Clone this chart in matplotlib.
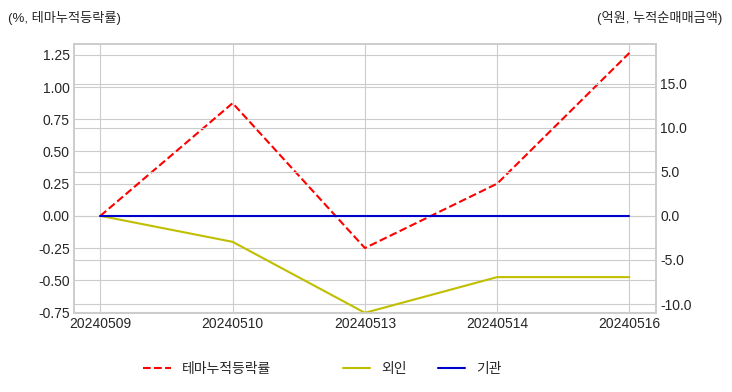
import matplotlib
matplotlib.use("Agg")
import matplotlib.pyplot as plt
import seaborn as sns
from matplotlib.ticker import FormatStrFormatter

dates = ["20240509", "20240510", "20240513", "20240514", "20240516"]
theme_return = [0.0, 0.875, -0.25, 0.25, 1.265]  # %
foreign = [0.0, -2.95, -11.0, -6.95, -6.95]  # 억원
institution = [0.0, 0.0, 0.0, 0.0, 0.0]  # 억원

sns.set_style("whitegrid")
plt.rcParams["font.family"] = ["Liberation Sans", "Noto Sans CJK KR", "DejaVu Sans"]
plt.rcParams["axes.unicode_minus"] = False

fig = plt.figure(figsize=(7.32, 3.92), dpi=100)
ax = fig.add_axes([0.101, 0.202, 0.795, 0.686])
ax2 = ax.twinx()

l1, = ax.plot(dates, theme_return, color="red", linestyle="--", linewidth=1.5, label="테마누적등락률")
l2, = ax2.plot(dates, foreign, color="#bfbf00", linewidth=1.5, label="외인")
l3, = ax2.plot(dates, institution, color="#0000cc", linewidth=1.5, label="기관")

# align zero on both axes
left_top = max(theme_return) + 0.07
right_bottom = min(foreign)
zero_frac = 0.3606
left_bottom = -left_top * zero_frac / (1 - zero_frac)
right_top = -right_bottom * (1 - zero_frac) / zero_frac
ax.set_ylim(left_bottom, left_top)
ax2.set_ylim(right_bottom, right_top)

ax.set_yticks([-0.75, -0.5, -0.25, 0, 0.25, 0.5, 0.75, 1.0, 1.25])
ax.yaxis.set_major_formatter(FormatStrFormatter("%.2f"))
ax2.set_yticks([-10, -5, 0, 5, 10, 15])
ax2.yaxis.set_major_formatter(FormatStrFormatter("%.1f"))

for a in (ax, ax2):
    a.tick_params(labelsize=10, colors="#262626", pad=3, length=0)
    for s in a.spines.values():
        s.set_color("#cccccc")
        s.set_linewidth(1.2)
ax2.grid(True, color="#cccccc")

fig.text(0.011, 0.955, "(%, 테마누적등락률)", fontsize=9.5, color="#262626", va="center")
fig.text(0.986, 0.955, "(억원, 누적순매매금액)", fontsize=9.5, color="#262626", va="center", ha="right")

fig.legend(handles=[l1], loc="center", bbox_to_anchor=(0.283, 0.058),
           frameon=False, fontsize=10, handlelength=2)
fig.legend(handles=[l2, l3], loc="center", bbox_to_anchor=(0.577, 0.058), ncol=2,
           frameon=False, fontsize=10, handlelength=2, columnspacing=2.2)

fig.savefig("out.png", dpi=100)
